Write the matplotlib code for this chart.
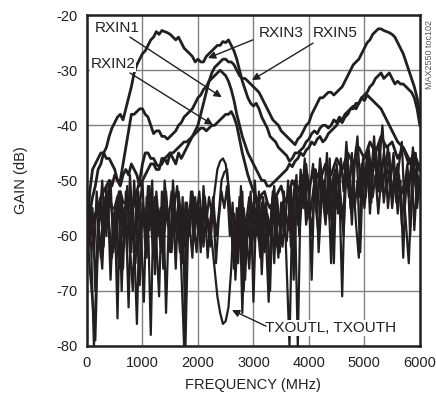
import numpy as np
import matplotlib
matplotlib.use("Agg")
import matplotlib.pyplot as plt
from matplotlib import font_manager

# ---------------- data ----------------
rx_step = 50  # MHz, first value at 0 MHz
rx_a = [-58, -56, -53, -51, -48, -47, -45, -44, -42, -40.5,
        -39.5, -38.5, -38, -39, -37, -35, -33, -30.5, -29, -28,
        -27, -26.5, -25.5, -24.5, -24, -23, -23.5, -22.8, -23, -23.2,
        -23.5, -24, -24.5, -24, -25, -26, -26.5, -27, -27.5, -28.5,
        -28, -28.5, -28.5, -27.5, -27, -26.5, -26, -25.5, -25.5, -24.8,
        -25, -24.5, -25.5, -26.5, -28, -30, -32, -33.5, -35, -36,
        -36.5, -36, -37, -38.5, -39.5, -40.5, -42, -42.5, -43, -44,
        -44.5, -45, -45.5, -46.5, -46, -45, -45, -44.5, -44, -43,
        -42.5, -41.5, -41, -41.5, -40.5, -40, -40, -40.5, -40, -39,
        -39.5, -38.5, -39, -38, -37.5, -37, -36.5, -37, -36, -35,
        -34.5, -34, -33, -32.5, -31.5, -31, -30.5, -31.5, -31, -30.5,
        -31.5, -32.5, -32, -32.5, -32.5, -33, -33.5, -34, -35, -37,
        -40]
rx_b = [-64, -60, -58, -56, -55, -53, -52, -51, -50, -51,
        -49, -50, -51, -49, -48, -49, -47, -48, -49, -51,
        -50, -49, -48, -47, -47, -48, -48, -46, -46, -47,
        -45, -46, -47, -45, -46, -45, -44, -43, -42, -41,
        -40, -38, -36, -34, -32, -30.5, -29.5, -29, -28.5, -28,
        -28, -28.5, -28.5, -29, -30, -31, -31.5, -31.5, -32, -32.5,
        -33, -33.5, -34, -35, -36, -37, -38, -39, -39.5, -40,
        -41, -41.5, -42, -42.5, -43, -43.5, -42.5, -42, -41, -40,
        -39.5, -38, -37, -36, -35, -35, -34.5, -34, -34, -34.5,
        -34, -33.5, -33, -32, -31, -30, -29, -28.5, -28, -27,
        -26, -25, -24.5, -23.5, -23, -22.5, -22.5, -22.8, -23, -23.2,
        -23.5, -24, -25, -26, -27, -28.5, -30, -31.5, -33, -35,
        -38]
rx_c = [-60, -52, -48, -47, -46, -45, -45, -46, -46, -47,
        -48, -50, -50, -47, -44, -41, -38, -38, -37.5, -37,
        -37, -38, -38.5, -40, -41.5, -41, -41, -42, -42, -42.5,
        -42, -41.5, -41, -40, -39.5, -38.5, -38, -37.5, -37, -36,
        -35, -34.5, -33.5, -33, -32, -31.5, -31, -30.5, -30, -30.5,
        -31, -32, -33.5, -35.5, -38, -40, -42, -43.5, -45, -46,
        -47, -48, -49, -50, -50, -51, -51, -50.5, -50, -49.5,
        -49, -48.5, -48, -47, -47.5, -46.5, -46, -45, -45.5, -44.5,
        -44, -43, -43.5, -42.5, -42, -43, -42.5, -41.5, -41, -40.5,
        -40, -39, -39.5, -38.5, -38, -37, -37, -36, -36, -35,
        -35.5, -34.5, -35, -35.5, -36, -36.5, -37, -38, -39, -40,
        -41, -42, -43, -43.5, -44, -45, -46, -47, -48, -49,
        -50]
rx_d = [-62, -60, -58, -57, -55, -57, -56, -54, -53, -55,
        -55, -53, -52, -54, -54, -56, -56, -54, -52, -50,
        -47, -45, -45, -46, -46, -47, -47.5, -47, -46, -45.5,
        -45, -45, -44.5, -44, -43.5, -43, -43, -42.5, -42, -41.5,
        -41, -40.5, -40.5, -41, -40.5, -40, -40, -39.5, -39, -38.5,
        -38, -38, -37.5, -38.5, -40, -42.5, -45, -47, -49, -50.5,
        -52, -53, -54, -52.5, -52, -54, -55, -54, -53, -52,
        -51, -53, -54, -52, -50, -51, -52, -50.5, -49, -50,
        -51, -49.5, -48, -49, -50, -48.5, -47, -48, -49, -47.5,
        -46, -47, -48, -46.5, -45, -46, -47, -45.5, -44, -45,
        -46, -44.5, -43, -44, -45, -43.5, -42, -43, -44, -43.5,
        -43, -44.5, -46, -45, -44, -45.5, -47, -46, -45, -46.5,
        -48]

tx_step = 50  # MHz
# TXOUTL / TXOUTH traces sampled at 0, 50, ... MHz
tx_l = [-58, -66, -72, -79, -60, -54, -62, -51, -58, -64,
        -55, -75, -52, -60, -56, -73, -53, -61, -76, -55,
        -50, -62, -57, -78, -54, -61, -71, -52, -59, -55,
        -63, -50, -58, -54, -66, -80, -55, -60, -52, -57,
        -54, -63, -51, -58, -53, -56, -52, -48, -46.5, -46,
        -47, -51, -58, -66, -55, -62, -52, -68, -56, -63,
        -54, -60, -52, -67, -55, -58, -70, -53, -62, -56,
        -60, -52, -66, -80, -55, -50, -58, -48, -55, -47,
        -52, -68, -49, -54, -46, -51, -57, -48, -53, -65,
        -47, -52, -71, -50, -46, -55, -49, -44, -53, -47,
        -51, -45, -56, -48, -44, -52, -47, -54, -49, -45,
        -53, -48, -56, -50, -64, -49, -53, -46, -59, -50,
        -52]
tx_h = [-52, -61, -55, -70, -57, -64, -53, -60, -50, -56,
        -62, -53, -58, -66, -52, -57, -63, -50, -58, -69,
        -54, -60, -51, -57, -64, -52, -58, -63, -50, -56,
        -61, -54, -66, -52, -57, -62, -54, -58, -64, -53,
        -59, -55, -62, -56, -58, -61, -66, -71, -74, -76,
        -75.5, -73, -66, -56, -62, -53, -74, -57, -60, -52,
        -72, -55, -61, -54, -63, -56, -59, -52, -58, -64,
        -54, -59, -61, -55, -62, -56, -80, -53, -49, -58,
        -54, -60, -51, -56, -48, -53, -58, -51, -65, -49,
        -55, -50, -57, -52, -47, -54, -50, -58, -64, -49,
        -55, -50, -46, -53, -49, -56, -50, -45, -52, -48,
        -55, -50, -47, -53, -51, -58, -65, -52, -48, -55,
        -50]
# second pair of TX traces sampled at 25, 75, ... MHz
tx_l2 = [-55, -62, -80, -66, -57, -50, -59, -53, -68, -56,
         -61, -52, -70, -55, -63, -49, -58, -65, -54, -60,
         -72, -53, -59, -50, -67, -56, -62, -54, -74, -57,
         -52, -60, -56, -63, -53, -80, -58, -54, -61, -56,
         -52, -59, -55, -64, -57, -53, -60, -56, -50, -48.5,
         -48, -55, -62, -58, -65, -51, -70, -57, -53, -62,
         -50, -58, -64, -53, -60, -72, -55, -51, -59, -63,
         -54, -58, -50, -62, -56, -49, -60, -53, -46, -57,
         -51, -47, -55, -60, -49, -53, -45, -57, -50, -48,
         -56, -46, -52, -43, -50, -58, -47, -42, -51, -46,
         -53, -44, -49, -42, -51, -46, -40, -48, -44, -50,
         -45, -52, -47, -43, -55, -48, -50, -44, -51, -47]
tx_h2 = [-61, -56, -64, -52, -60, -66, -54, -58, -50, -63,
         -57, -66, -53, -59, -51, -62, -70, -56, -52, -59,
         -55, -64, -51, -58, -53, -60, -55, -66, -52, -59,
         -63, -55, -51, -57, -65, -54, -60, -52, -58, -63,
         -55, -61, -53, -58, -62, -54, -65, -57, -52, -55,
         -51, -60, -54, -68, -58, -63, -55, -60, -66, -56,
         -61, -55, -62, -57, -54, -60, -56, -65, -53, -58,
         -62, -55, -59, -51, -68, -54, -58, -50, -55, -49,
         -56, -52, -48, -63, -54, -50, -56, -46, -61, -52,
         -49, -54, -60, -48, -53, -45, -55, -50, -63, -48,
         -51, -47, -54, -45, -50, -43, -52, -47, -55, -49,
         -46, -54, -49, -58, -51, -47, -60, -49, -45, -53]
tx2_start = 25  # MHz

x_ticks = [0, 1000, 2000, 3000, 4000, 5000, 6000]
y_ticks = [-80, -70, -60, -50, -40, -30, -20]

labels = ["RXIN1", "RXIN2", "RXIN3", "RXIN5", "TXOUTL, TXOUTH"]

# ---------------- style ----------------
names = {f.name for f in font_manager.fontManager.ttflist}
fam = "Liberation Sans Narrow" if "Liberation Sans Narrow" in names else "Liberation Sans"
plt.rcParams["font.family"] = [fam, "DejaVu Sans"]
ink = "#231f20"

fig = plt.figure(figsize=(4.36, 4.07), dpi=100)
ax = fig.add_axes([0.1995, 0.150, 0.7635, 0.813])

traces = [
    (tx_l, 0, tx_step, 1.6), (tx_h, 0, tx_step, 1.6),
    (tx_l2, tx2_start, tx_step, 1.6), (tx_h2, tx2_start, tx_step, 1.6),
    (rx_d, 0, rx_step, 2.0), (rx_c, 0, rx_step, 2.0),
    (rx_b, 0, rx_step, 2.0), (rx_a, 0, rx_step, 2.0),
]
for arr, start, step, lw in traces:
    f = start + np.arange(len(arr)) * step
    ax.plot(f, arr, color=ink, lw=lw, solid_joinstyle="round", zorder=3)

ax.set_xlim(0, 6000)
ax.set_ylim(-80, -20)
ax.set_xticks(x_ticks)
ax.set_yticks(y_ticks)
ax.set_xticklabels([str(v) for v in x_ticks])
ax.set_yticklabels([str(v) for v in y_ticks])
ax.tick_params(length=0, pad=7, labelsize=10.5, colors=ink)
ax.grid(True, color="#808080", lw=1.0, zorder=1)
ax.set_axisbelow(True)
for s in ax.spines.values():
    s.set_linewidth(1.8)
    s.set_color(ink)
    s.set_zorder(5)

ax.set_xlabel("FREQUENCY (MHz)", fontsize=10.5, color=ink, labelpad=6)
ax.set_ylabel("GAIN (dB)", fontsize=10.5, color=ink, labelpad=20)

bb = dict(facecolor="white", edgecolor="none", pad=0.5)
text_pos = [(541, -22.3), (469, -28.9), (3496, -23.3), (4469, -23.3), (4397, -76.7)]
tails = [(775, -24.0), (775, -30.5), (2991, -24.5), (4073, -25.1), (3226, -76.4)]
heads = [(2430, -34.9), (2270, -39.9), (2180, -27.8), (2973, -31.8), (2613, -73.5)]
for lab, tp, tl, hd in zip(labels, text_pos, tails, heads):
    ax.text(tp[0], tp[1], lab, ha="center", va="center", fontsize=11, color=ink,
            bbox=bb, zorder=6)
    ax.annotate("", xy=hd, xytext=tl,
                arrowprops=dict(arrowstyle="-|>", lw=1.0, color=ink, shrinkA=0, shrinkB=0,
                                mutation_scale=11), zorder=7)

fig.text(0.986, 0.865, "MAX2550 toc102", rotation=90, ha="center", va="center",
         fontsize=6.5, color="#555555")

fig.savefig("out.png", dpi=100)
